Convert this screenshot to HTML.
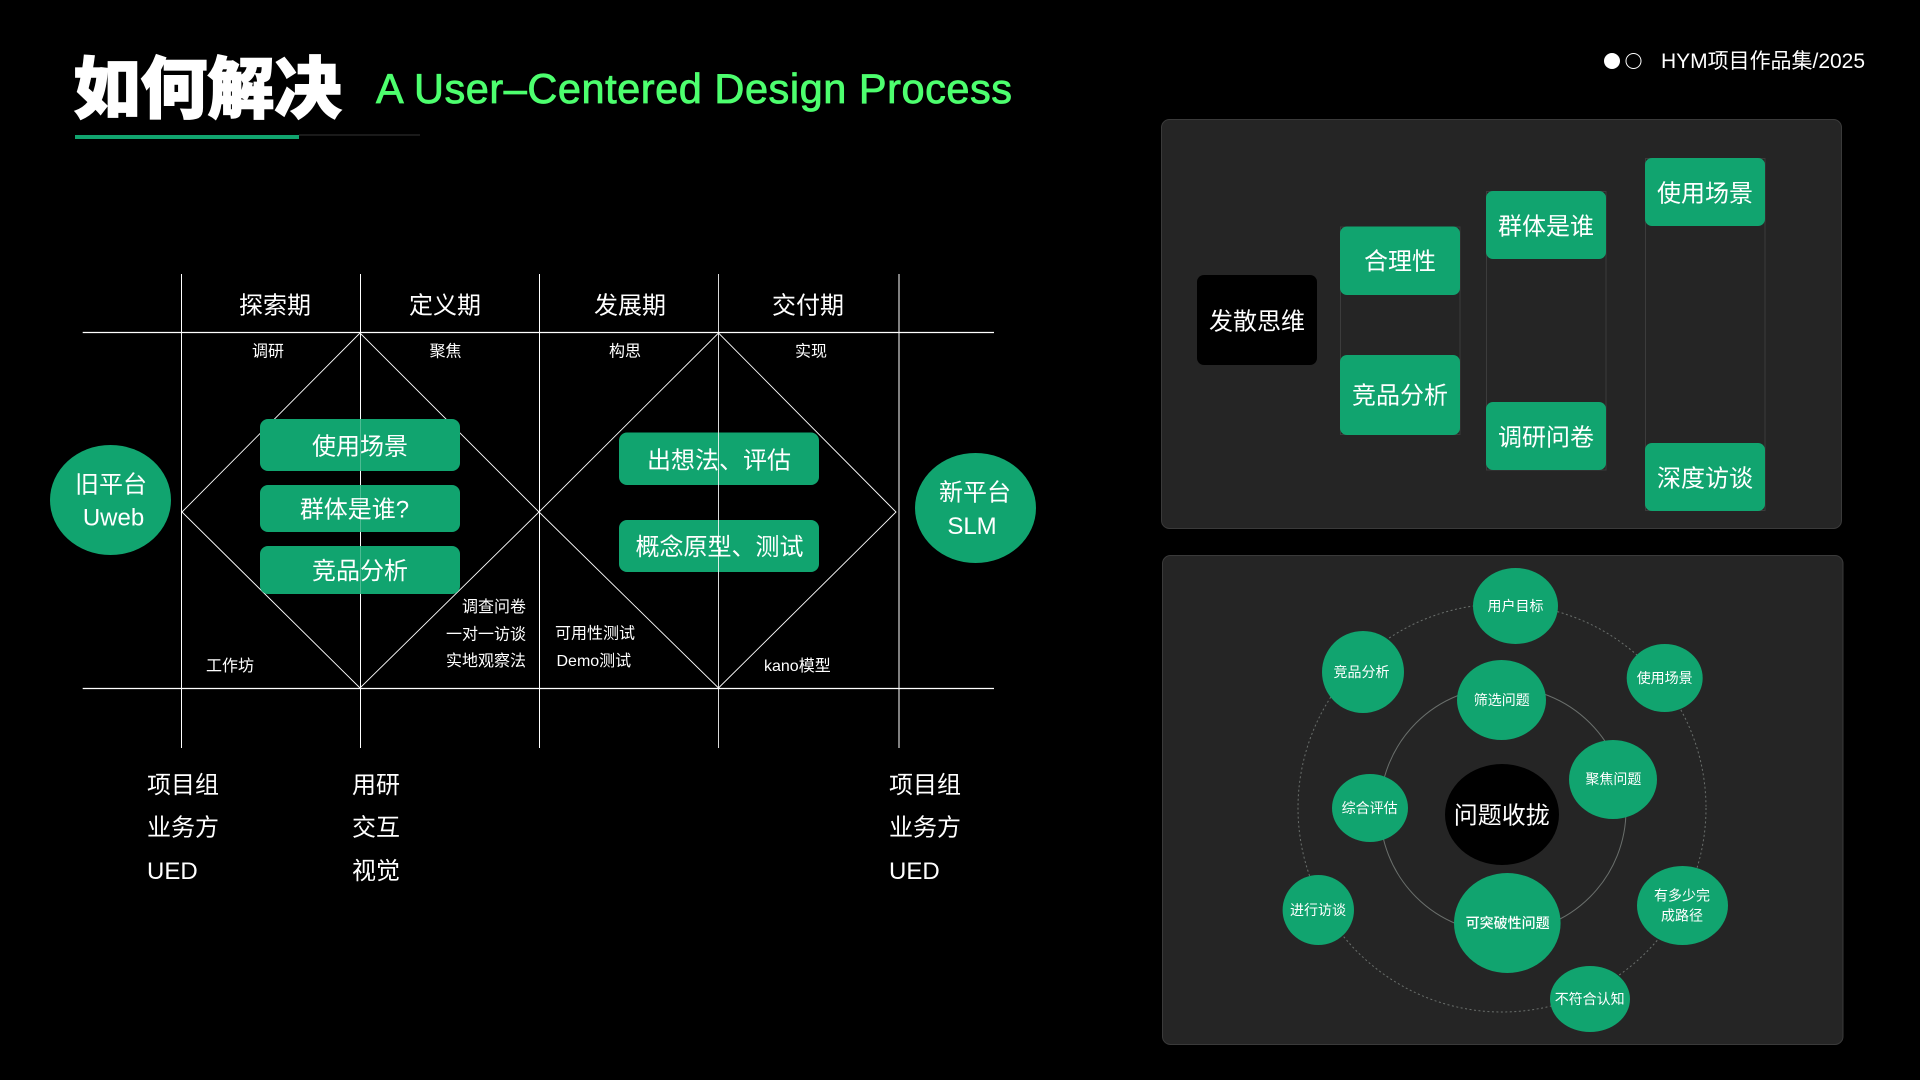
<!DOCTYPE html>
<html><head><meta charset="utf-8"><style>
html,body{margin:0;padding:0;background:#000;width:1920px;height:1080px;overflow:hidden}
svg{display:block}
text{font-family:"Liberation Sans","Noto Sans CJK SC",sans-serif;fill:#fff;dominant-baseline:central;transform:translateY(1px)}
.m{text-anchor:middle}.r{text-anchor:end}
.a{font-size:24px}.b{font-size:16px}.c{font-size:14px}
text.d{transform:translateY(2px)}
</style></head><body>
<svg width="1920" height="1080" viewBox="0 0 1920 1080" xmlns="http://www.w3.org/2000/svg">
<rect width="1920" height="1080" fill="#000"/>
<text x="207.500" y="89" class="m" style="font-size:67px;font-weight:900;stroke:#fff;stroke-width:1.500px">如何解决</text>
<text x="376" y="102" textLength="636" style="font-size:41.500px;fill:#4dff6e;dominant-baseline:alphabetic;stroke:#4dff6e;stroke-width:.8px">A User–Centered Design Process</text>
<rect x="299" y="134.500" width="121" height="1" fill="#333"/>
<rect x="75" y="135" width="224" height="4" fill="#11a46f"/>
<circle cx="1612" cy="61" r="8" fill="#fff"/>
<circle cx="1633.500" cy="61" r="7.500" fill="none" stroke="#fff" stroke-width="1"/>
<text x="1661" y="60.500" textLength="204" style="font-size:21px">HYM项目作品集/2025</text>

<!-- process grid -->
<g stroke="#fff" fill="none">
<path d="M82.700 332.500H994M82.700 688.500H994" stroke-width="1.300"/>
<path d="M182 512L360 333L539 512L360 688ZM539 512L718.500 333L896 512L718.500 688Z" stroke-width=".9"/>
</g>
<g fill="#11a46f">
<ellipse cx="110.500" cy="500" rx="60.500" ry="55"/>
<ellipse cx="975.500" cy="508" rx="60.500" ry="55"/>
<rect x="260" y="419" width="200" height="52" rx="8"/>
<rect x="260" y="485" width="200" height="47" rx="8"/>
<rect x="260" y="546" width="200" height="48" rx="8"/>
<rect x="619" y="432.500" width="200" height="52.500" rx="8"/>
<rect x="619" y="520" width="200" height="52" rx="8"/>
</g>
<g stroke="#fff" stroke-width="1">
<path d="M181.500 274V748M539.500 274V748M899 274V748"/>
<path d="M360.500 274V419M360.500 471V485M360.500 532V546M360.500 594V748"/>
<path d="M360.500 419V594" opacity=".25"/>
<path d="M718.500 274V748" opacity=".85"/>
</g>
<text x="275" y="305" class="m a">探索期</text>
<text x="445" y="305" class="m a">定义期</text>
<text x="630" y="305" class="m a">发展期</text>
<text x="808" y="305" class="m a">交付期</text>
<text x="268" y="351" class="m b">调研</text>
<text x="445.500" y="351" class="m b">聚焦</text>
<text x="625" y="351" class="m b">构思</text>
<text x="811" y="351" class="m b">实现</text>
<text x="111" y="484" class="m a">旧平台</text>
<text x="113.500" y="517" class="m a">Uweb</text>
<text x="975" y="492" class="m a">新平台</text>
<text x="972" y="525.500" class="m a">SLM</text>
<text x="360" y="445" class="m a d">使用场景</text>
<text x="354.500" y="509" class="m a">群体是谁?</text>
<text x="360" y="570.500" class="m a">竞品分析</text>
<text x="719" y="459" class="m a d">出想法、评估</text>
<text x="719.500" y="546.500" class="m a">概念原型、测试</text>
<text x="526" y="606.500" class="r b">调查问卷</text>
<text x="526" y="634" class="r b">一对一访谈</text>
<text x="526" y="660.500" class="r b">实地观察法</text>
<text x="555" y="633" class="b">可用性测试</text>
<text x="556.500" y="660.500" class="b">Demo测试</text>
<text x="206" y="665.500" class="b">工作坊</text>
<text x="764" y="665.500" class="b">kano模型</text>
<text x="147" y="784.500" class="a">项目组</text>
<text x="147" y="827" class="a">业务方</text>
<text x="147" y="870.500" class="a">UED</text>
<text x="352" y="784.500" class="a">用研</text>
<text x="352" y="827" class="a">交互</text>
<text x="352" y="870.500" class="a">视觉</text>
<text x="889" y="784.500" class="a">项目组</text>
<text x="889" y="827" class="a">业务方</text>
<text x="889" y="870.500" class="a">UED</text>

<!-- panel 1 -->
<rect x="1161.500" y="119.500" width="680" height="409" rx="8" fill="#252525" stroke="#3a3a3a"/>
<g fill="none" stroke="#3c3c3c" stroke-width="1">
<rect x="1340.500" y="227" width="119.500" height="207.500"/>
<rect x="1486.500" y="191.500" width="119.500" height="278.500"/>
<rect x="1645.500" y="158.500" width="119.500" height="352"/>
</g>
<rect x="1197" y="275" width="120" height="90" rx="7" fill="#000"/>
<g fill="#11a46f">
<rect x="1340" y="226.500" width="120" height="68.500" rx="7"/>
<rect x="1340" y="355" width="120" height="80" rx="7"/>
<rect x="1486" y="191" width="120" height="68" rx="7"/>
<rect x="1486" y="402" width="120" height="68" rx="7"/>
<rect x="1645" y="158" width="120" height="68" rx="7"/>
<rect x="1645" y="443" width="120" height="68" rx="7"/>
</g>
<text x="1257" y="320" class="m a d">发散思维</text>
<text x="1400" y="261" class="m a">合理性</text>
<text x="1400" y="395" class="m a">竞品分析</text>
<text x="1546" y="226" class="m a">群体是谁</text>
<text x="1546" y="437" class="m a">调研问卷</text>
<text x="1705" y="192" class="m a d">使用场景</text>
<text x="1705" y="477" class="m a d">深度访谈</text>

<!-- panel 2 -->
<rect x="1162.500" y="555.500" width="680.500" height="489" rx="8" fill="#252525" stroke="#3a3a3a"/>
<circle cx="1502" cy="808" r="204" fill="none" stroke="#6a6f6c" stroke-width="1" stroke-dasharray="2 2.500"/>
<circle cx="1503" cy="810" r="123" fill="none" stroke="#6a6f6c" stroke-width="1"/>
<g fill="#11a46f">
<ellipse cx="1515.500" cy="606" rx="42.500" ry="38"/>
<ellipse cx="1363" cy="672" rx="41" ry="41"/>
<ellipse cx="1664.700" cy="678" rx="38" ry="34"/>
<ellipse cx="1501.500" cy="700" rx="44.500" ry="40"/>
<ellipse cx="1613" cy="779.500" rx="44" ry="39.500"/>
<ellipse cx="1370" cy="808" rx="38" ry="34"/>
<ellipse cx="1318.300" cy="910" rx="35.700" ry="35"/>
<ellipse cx="1507.300" cy="923" rx="53.300" ry="50"/>
<ellipse cx="1682.500" cy="905.500" rx="45.500" ry="39.500"/>
<ellipse cx="1590" cy="999" rx="40" ry="33"/>
</g>
<ellipse cx="1502" cy="814.500" rx="57" ry="50.500" fill="#000"/>
<text x="1515.500" y="605" class="m c">用户目标</text>
<text x="1361.500" y="671" class="m c">竞品分析</text>
<text x="1664.700" y="677" class="m c">使用场景</text>
<text x="1501.800" y="699" class="m c">筛选问题</text>
<text x="1613.400" y="778" class="m c">聚焦问题</text>
<text x="1369.600" y="807" class="m c">综合评估</text>
<text x="1501.800" y="814" class="m a d">问题收拢</text>
<text x="1318" y="909" class="m c">进行访谈</text>
<text x="1507.600" y="922" class="m c" style="font-weight:500">可突破性问题</text>
<text x="1682" y="894.700" class="m c">有多少完</text>
<text x="1682" y="914.700" class="m c">成路径</text>
<text x="1589.700" y="998" class="m c">不符合认知</text>
</svg>
</body></html>
